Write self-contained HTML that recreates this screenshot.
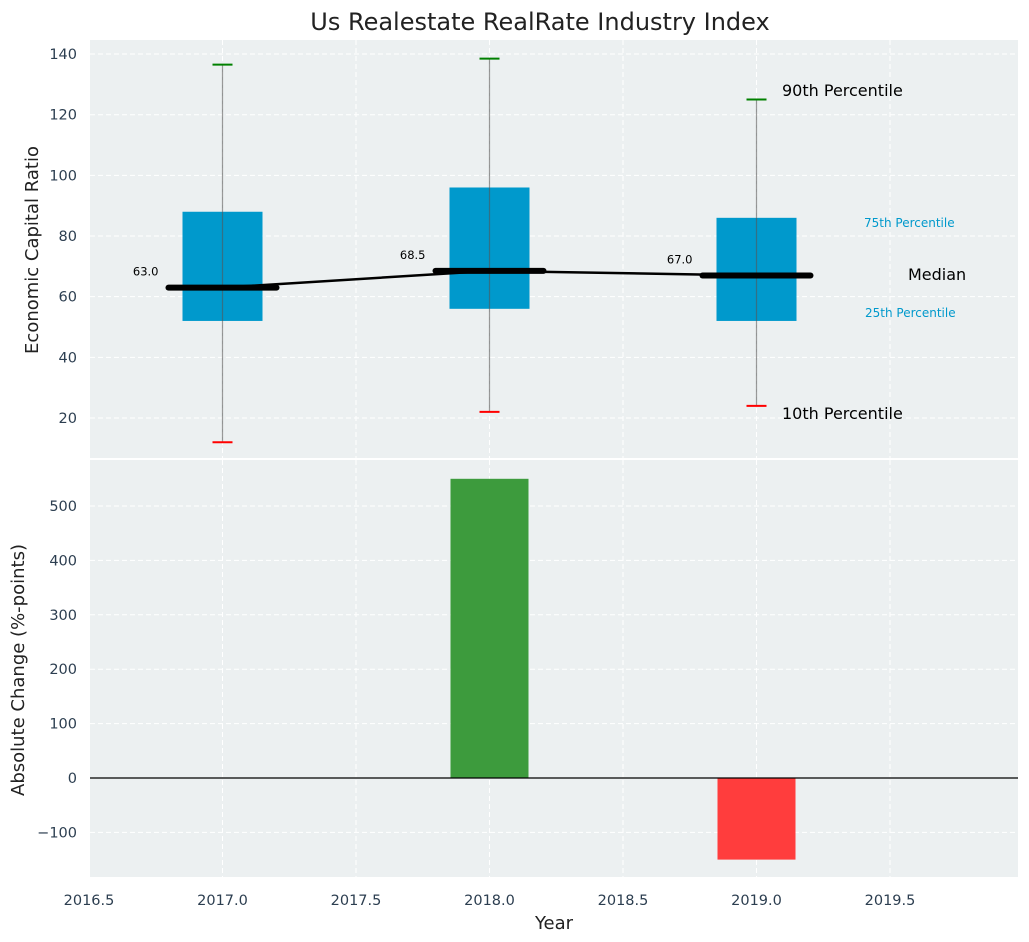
<!DOCTYPE html>
<html><head><meta charset="utf-8"><style>
body{margin:0;background:#fff;}
svg{display:block;font-family:"DejaVu Sans","Liberation Sans",sans-serif;}
</style></head><body>
<svg id="c" width="1029" height="942"></svg>
<script>
const years=[2017,2018,2019];
const p10=[12,22,24];
const p25=[52,56,52];
const median=[63,68.5,67];
const p75=[88,96,86];
const p90=[136.5,138.5,125];
const changes=[0,550,-150];
const xTicks=[2016.5,2017,2017.5,2018,2018.5,2019,2019.5];
const yTopTicks=[20,40,60,80,100,120,140];
const yBotTicks=[-100,0,100,200,300,400,500];

const NS="http://www.w3.org/2000/svg";
const svg=document.getElementById('c');
function el(t,a,p){const e=document.createElementNS(NS,t);for(const k in a)e.setAttribute(k,a[k]);(p||svg).appendChild(e);return e;}
const L=90,R=1018;
const x=v=>89+(v-2016.5)*267;
const yT=v=>418-(v-20)*3.033;
const yB=v=>778-v*0.544;
const T1=40,B1=458,T2=460,B2=877;

const bg1=el('rect',{x:L,y:T1,width:R-L,height:B1-T1,fill:'#ecf0f1'});

const bg2=el('rect',{x:L,y:T2,width:R-L,height:B2-T2,fill:'#ecf0f1'});


xTicks.forEach(t=>{
  [[T1,B1],[T2,B2]].forEach(([a,b])=>{
    const g=el('line',{x1:x(t),x2:x(t),y1:a,y2:b,stroke:'#fff','stroke-dasharray':'5,3','stroke-width':1});
    
  });
});
yTopTicks.forEach(t=>{
  const g=el('line',{x1:L,x2:R,y1:yT(t),y2:yT(t),stroke:'#fff','stroke-dasharray':'5,3'});
  
  const tx=el('text',{x:L-13,y:yT(t)+5,'text-anchor':'end','font-size':14.5,fill:'#2c3e50'});
  tx.textContent=t;
  
});
yBotTicks.forEach(t=>{
  const g=el('line',{x1:L,x2:R,y1:yB(t),y2:yB(t),stroke:'#fff','stroke-dasharray':'5,3'});
  
  const tx=el('text',{x:L-13,y:yB(t)+5,'text-anchor':'end','font-size':14.5,fill:'#2c3e50'});
  tx.textContent=(t<0?'\u2212'+(-t):t);
  
});
xTicks.forEach(t=>{
  const tx=el('text',{x:x(t),y:905,'text-anchor':'middle','font-size':14.5,fill:'#2c3e50'});
  tx.textContent=t.toFixed(1);
  
});

years.forEach((yr,i)=>{
  const cx=x(yr);
  const b=el('rect',{x:cx-40,y:yT(p75[i]),width:80,height:yT(p25[i])-yT(p75[i]),fill:'#0099cc'});
  
  const w=el('line',{x1:cx,x2:cx,y1:yT(p10[i]),y2:yT(p90[i]),stroke:'#555','stroke-opacity':0.6,'stroke-width':1.2});
  
  const c1=el('line',{x1:cx-10,x2:cx+10,y1:yT(p90[i]),y2:yT(p90[i]),stroke:'green','stroke-width':2});
  
  const c2=el('line',{x1:cx-10,x2:cx+10,y1:yT(p10[i]),y2:yT(p10[i]),stroke:'red','stroke-width':2});
  
});
const pts=years.map((yr,i)=>x(yr)+','+yT(median[i])).join(' ');
const ml=el('polyline',{points:pts,fill:'none',stroke:'#000','stroke-width':2.5});

years.forEach((yr,i)=>{
  const cx=x(yr);
  const m=el('line',{x1:cx-54,x2:cx+54,y1:yT(median[i]),y2:yT(median[i]),stroke:'#000','stroke-width':6,'stroke-linecap':'round'});
  
  const t=el('text',{x:cx-64,y:yT(median[i])-12,'text-anchor':'end','font-size':11.5,fill:'#000'});
  t.textContent=median[i].toFixed(1);
  
});
const ann=[['90th Percentile',782,96,16,'#000'],['10th Percentile',782,419,16,'#000'],['Median',908,280,16,'#000'],['75th Percentile',864,227,12,'#0099cc'],['25th Percentile',865,317,12,'#0099cc']];
ann.forEach(a=>{
  const t=el('text',{x:a[1],y:a[2],'font-size':a[3],fill:a[4]});
  t.textContent=a[0];
  
});

years.forEach((yr,i)=>{
  const v=changes[i];if(v===0)return;
  const cx=x(yr);
  const b=el('rect',{x:cx-39,y:Math.min(yB(v),yB(0)),width:78,height:Math.abs(yB(v)-yB(0)),fill:v>0?'#3d9b3d':'#ff3d3d'});
  
});
const z=el('line',{x1:L,x2:R,y1:yB(0),y2:yB(0),stroke:'#000','stroke-width':1.2});


const tt=el('text',{x:540,y:30,'text-anchor':'middle','font-size':24,fill:'#222'});
tt.textContent='Us Realestate RealRate Industry Index';

const xl=el('text',{x:554,y:929,'text-anchor':'middle','font-size':18,fill:'#222'});
xl.textContent='Year';

const y1=el('text',{x:38,y:250,'text-anchor':'middle','font-size':18,fill:'#222',transform:'rotate(-90 38 250)'});
y1.textContent='Economic Capital Ratio';

const y2=el('text',{x:24,y:670,'text-anchor':'middle','font-size':18,fill:'#222',transform:'rotate(-90 24 670)'});
y2.textContent='Absolute Change (%-points)';

</script>
</body></html>
